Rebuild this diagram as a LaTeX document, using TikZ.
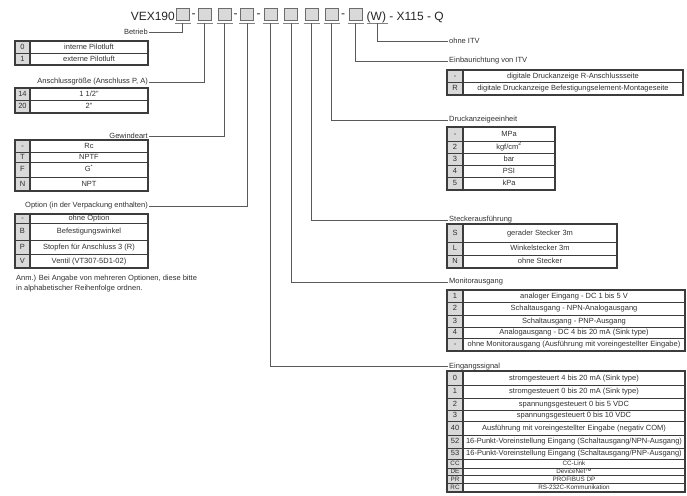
\documentclass[tikz,border=0pt]{standalone}
\usepackage{fontspec}
\setmainfont{Liberation Sans}
\usepackage{tikz}
\definecolor{linegray}{HTML}{5A5A5A}
\definecolor{framegray}{HTML}{3C3C3C}
\definecolor{keygray}{HTML}{D9D9D9}
\definecolor{txtgray}{HTML}{303030}
\newcommand{\sm}{\fontsize{6.3}{7}\selectfont}
\tikzset{
    slotbox/.style={draw=gray!85!black, fill=keygray, line width=1pt, minimum width=13pt, minimum height=12pt, inner sep=0pt, outer sep=0pt},
    uline/.style={draw=gray, line width=1.6pt},
    conn/.style={draw=linegray, line width=0.9pt},
    hdr/.style={font=\fontsize{12}{14}\selectfont, text=black!85, inner sep=0pt},
    lbl/.style={font=\fontsize{7.5}{9}\selectfont, text=txtgray, inner sep=1pt},
    cell/.style={draw=framegray, line width=0.6pt, inner sep=0pt, outer sep=0pt, anchor=north west,
        font=\fontsize{7.5}{9}\selectfont, text=txtgray, text height=5.4pt, text depth=1.4pt},
    keycell/.style={cell, fill=keygray},
    tframe/.style={draw=framegray, line width=1.2pt},
}
\newcommand{\slot}[2]{
    \node[slotbox] (#1) at (#2,15) {};
    \coordinate (#1u) at ([yshift=-2.5pt]#1.south);
    \draw[uline] ([xshift=-8pt]#1u) -- ([xshift=8pt]#1u);
}
\newcommand{\trow}[8]{
    \node[keycell, minimum width={#3-#2}, minimum height={#6-#5}] (#1k) at (#2,#5) {#7};
    \node[cell, minimum width={#4-#3}, minimum height={#6-#5}] (#1t) at (#3,#5) {#8};
}
\newcommand{\tbox}[2]{
    \draw[tframe] (#1k.north west) rectangle (#2t.south east);
    \draw[tframe] (#1k.north east) -- (#2k.south east);
}

\begin{document}
\begin{tikzpicture}[x=1pt,y=-1pt]
    \useasboundingbox (0,0) rectangle (687,495);

    \node[hdr, anchor=base east] (vex) at (175,20.5) {VEX190};
    \slot{b1}{182.5}
    \node[hdr] (d1) at (193.5,15.5) {-};
    \slot{b2}{204.5}
    \slot{b3}{224.5}
    \node[hdr] (d2) at (235.5,15.5) {-};
    \slot{b4}{247}
    \node[hdr] (d3) at (258.5,15.5) {-};
    \slot{b5}{270.5}
    \slot{b6}{291}
    \slot{b7}{311.5}
    \slot{b8}{331.5}
    \node[hdr] (d4) at (343,15.5) {-};
    \slot{b9}{355.5}
    \node[hdr, anchor=base west] (suffix) at (366.5,20.5) {(W) - X115 - Q};
    \coordinate (bwu) at (377,23.5);
    \draw[uline] ([xshift=-10.5pt]bwu) -- ([xshift=10.5pt]bwu);

    \node[lbl, anchor=east] (betrieb) at (149,32) {Betrieb};
    \node[lbl, anchor=east] (anschluss) at (149,82) {Anschlussgröße (Anschluss P, A)};
    \node[lbl, anchor=east] (gewinde) at (149,136) {Gewindeart};
    \node[lbl, anchor=east] (option) at (149,206) {Option (in der Verpackung enthalten)};
    \node[lbl, anchor=west] (ohneitv) at (448,41) {ohne ITV};
    \node[lbl, anchor=west] (einbau) at (448,61) {Einbaurichtung von ITV};
    \node[lbl, anchor=west] (druck) at (448,120) {Druckanzeigeeinheit};
    \node[lbl, anchor=west] (stecker) at (448,220) {Steckerausführung};
    \node[lbl, anchor=west] (monitor) at (448,282) {Monitorausgang};
    \node[lbl, anchor=west] (eingang) at (448,366.5) {Eingangssignal};

    \draw[conn] (b1u) |- (betrieb.east);
    \draw[conn] (b2u) |- (anschluss.east);
    \draw[conn] (b3u) |- (gewinde.east);
    \draw[conn] (b4u) |- (option.east);
    \draw[conn] (b5u) |- (eingang.west);
    \draw[conn] (b6u) |- (monitor.west);
    \draw[conn] (b7u) |- (stecker.west);
    \draw[conn] (b8u) |- (druck.west);
    \draw[conn] (b9u) |- (einbau.west);
    \draw[conn] (bwu) |- (ohneitv.west);

    \trow{ba}{15}{30}{148}{41}{53}{0}{interne Pilotluft}
    \trow{bb}{15}{30}{148}{53}{65}{1}{externe Pilotluft}
    \tbox{ba}{bb}

    \trow{aa}{15}{30}{148}{88}{100}{14}{1 1/2"}
    \trow{ab}{15}{30}{148}{100}{113}{20}{2"}
    \tbox{aa}{ab}

    \trow{ga}{15}{30}{148}{140}{152}{-}{Rc}
    \trow{gb}{15}{30}{148}{152}{162}{T}{NPTF}
    \trow{gc}{15}{30}{148}{162}{177}{F}{G\textsuperscript{*}}
    \trow{gd}{15}{30}{148}{177}{191}{N}{NPT}
    \tbox{ga}{gd}

    \trow{oa}{15}{30}{148}{214}{223}{-}{ohne Option}
    \trow{ob}{15}{30}{148}{223}{240}{B}{Befestigungswinkel}
    \trow{oc}{15}{30}{148}{240}{254}{P}{Stopfen für Anschluss 3 (R)}
    \trow{od}{15}{30}{148}{254}{268}{V}{Ventil (VT307-5D1-02)}
    \tbox{oa}{od}

    \node[lbl, anchor=north west, align=left, font=\fontsize{7.5}{10}\selectfont] (anm) at (15,274)
        {Anm.) Bei Angabe von mehreren Optionen, diese bitte\\in alphabetischer Reihenfolge ordnen.};

    \trow{ea}{447}{463}{683}{70}{82.5}{-}{digitale Druckanzeige R-Anschlussseite}
    \trow{eb}{447}{463}{683}{82.5}{95}{R}{digitale Druckanzeige Befestigungselement-Montageseite}
    \tbox{ea}{eb}

    \trow{pa}{447}{463}{555}{127}{141}{-}{MPa}
    \trow{pb}{447}{463}{555}{141}{153}{2}{kgf/cm\textsuperscript{2}}
    \trow{pc}{447}{463}{555}{153}{165}{3}{bar}
    \trow{pd}{447}{463}{555}{165}{177}{4}{PSI}
    \trow{pe}{447}{463}{555}{177}{190}{5}{kPa}
    \tbox{pa}{pe}

    \trow{sa}{447}{463}{617}{224}{242}{S}{gerader Stecker 3m}
    \trow{sb}{447}{463}{617}{242}{255}{L}{Winkelstecker 3m}
    \trow{sc}{447}{463}{617}{255}{268}{N}{ohne Stecker}
    \tbox{sa}{sc}

    \trow{ma}{447}{463}{685}{290}{302}{1}{analoger Eingang - DC 1 bis 5 V}
    \trow{mb}{447}{463}{685}{302}{315}{2}{Schaltausgang - NPN-Analogausgang}
    \trow{mc}{447}{463}{685}{315}{327}{3}{Schaltausgang - PNP-Ausgang}
    \trow{md}{447}{463}{685}{327}{338}{4}{Analogausgang - DC 4 bis 20 mA (Sink type)}
    \trow{me}{447}{463}{685}{338}{351}{-}{ohne Monitorausgang (Ausführung mit voreingestellter Eingabe)}
    \tbox{ma}{me}

    \trow{ia}{447}{463}{685}{371}{385}{0}{stromgesteuert 4 bis 20 mA (Sink type)}
    \trow{ib}{447}{463}{685}{385}{398}{1}{stromgesteuert 0 bis 20 mA (Sink type)}
    \trow{ic}{447}{463}{685}{398}{410}{2}{spannungsgesteuert 0 bis 5 VDC}
    \trow{id}{447}{463}{685}{410}{421}{3}{spannungsgesteuert 0 bis 10 VDC}
    \trow{ie}{447}{463}{685}{421}{435}{40}{Ausführung mit voreingestellter Eingabe (negativ COM)}
    \trow{if}{447}{463}{685}{435}{448}{52}{16-Punkt-Voreinstellung Eingang (Schaltausgang/NPN-Ausgang)}
    \trow{ig}{447}{463}{685}{448}{459}{53}{16-Punkt-Voreinstellung Eingang (Schaltausgang/PNP-Ausgang)}
    \trow{ih}{447}{463}{685}{459}{468}{\sm CC}{\sm CC-Link}
    \trow{ii}{447}{463}{685}{468}{475}{\sm DE}{\sm DeviceNet\texttrademark}
    \trow{ij}{447}{463}{685}{475}{483}{\sm PR}{\sm PROFIBUS DP}
    \trow{ik}{447}{463}{685}{483}{492}{\sm RC}{\sm RS-232C-Kommunikation}
    \tbox{ia}{ik}
\end{tikzpicture}
\end{document}
